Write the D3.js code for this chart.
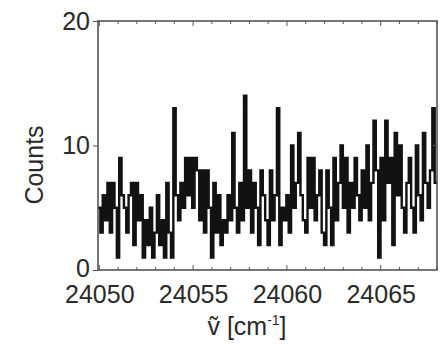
<!DOCTYPE html>
<html>
<head>
<meta charset="utf-8">
<script src="https://cdn.jsdelivr.net/npm/d3@7"></script>
<style>
  body { margin: 0; background: #fff; }
  svg { display: block; }
  text { font-family: "Liberation Sans", Arial, sans-serif; fill: #2a2a2a; }
</style>
</head>
<body>
<svg width="448" height="344"></svg>
<script>
// histogram: bin start, bin width, counts per bin
const binStart = 24049.93;
const binWidth = 0.1255;
const counts = [
  5, 3, 6, 4, 7, 3, 7, 5, 1, 9, 6, 5, 3, 6, 7, 2, 7, 4, 6, 1,
  4, 2, 5, 1, 3, 6, 2, 4, 1, 7, 3, 1, 13, 6, 4, 7, 5, 9, 6, 9,
  5, 9, 8, 4, 8, 3, 8, 5, 1, 7, 3, 6, 2, 4, 3, 6, 4, 11, 5, 3,
  7, 4, 14, 5, 8, 3, 7, 5, 2, 8, 6, 4, 2, 8, 4, 6, 13, 2, 5, 4,
  6, 3, 10, 5, 7, 11, 6, 4, 3, 9, 5, 9, 4, 6, 8, 3, 2, 8, 5, 2,
  9, 4, 7, 10, 5, 9, 3, 7, 5, 9, 6, 4, 8, 5, 10, 4, 7, 12, 8, 1,
  9, 4, 12, 7, 9, 2, 11, 6, 10, 5, 3, 7, 9, 5, 3, 10, 6, 4, 11, 7,
  5, 8, 13, 7
];
const xTicks = [24050, 24055, 24060, 24065];
const yTicks = [0, 10, 20];

const svg = d3.select("svg");
const margin = { top: 21, right: 11, bottom: 74, left: 98 };
const width = 448 - margin.left - margin.right;
const height = 344 - margin.top - margin.bottom;

const g = svg.append("g").attr("transform", `translate(${margin.left},${margin.top})`);

const x = d3.scaleLinear().domain([binStart, 24068]).range([0, width]);
const y = d3.scaleLinear().domain([0, 20]).range([height, 0]);

// step data: one point per bin start, plus the closing edge
const steps = counts.map((c, i) => ({ x: binStart + i * binWidth, c }));
steps.push({ x: binStart + counts.length * binWidth, c: counts[counts.length - 1] });

const line = d3.line()
  .x(d => x(d.x))
  .y(d => y(d.c))
  .curve(d3.curveStepAfter);

g.append("path")
  .datum(steps)
  .attr("fill", "none")
  .attr("stroke", "#121212")
  .attr("stroke-width", 2.4)
  .attr("d", line);

// minor ticks every wavenumber, inside the frame (bottom and top)
const minor = d3.range(24050, 24068.01, 1);
const tickStyle = sel => sel.attr("stroke", "#555").attr("stroke-width", 1);
g.selectAll(".tb").data(minor).join("line")
  .attr("x1", d => x(d)).attr("x2", d => x(d))
  .attr("y1", height).attr("y2", d => height - (d % 5 === 0 ? 5 : 3))
  .call(tickStyle);
g.selectAll(".tt").data(minor).join("line")
  .attr("x1", d => x(d)).attr("x2", d => x(d))
  .attr("y1", 0).attr("y2", d => (d % 5 === 0 ? 5 : 3))
  .call(tickStyle);

// left axis
const yAxis = g.append("g")
  .call(d3.axisLeft(y).tickValues(yTicks).tickSize(5).tickPadding(3));
yAxis.select(".domain").remove();
yAxis.selectAll("line").attr("stroke", "#555");
yAxis.selectAll("text")
  .style("font-size", "25px")
  .attr("fill", "#2a2a2a")
  .attr("y", d => (d === 0 ? -2 : 0));

// right inner tick
g.append("line")
  .attr("x1", width).attr("x2", width - 4)
  .attr("y1", y(10)).attr("y2", y(10))
  .call(tickStyle);

// bottom labels
const xAxis = g.append("g")
  .attr("transform", `translate(0,${height})`)
  .call(d3.axisBottom(x).tickValues(xTicks).tickSize(0).tickPadding(15).tickFormat(d3.format("d")));
xAxis.select(".domain").remove();
xAxis.selectAll("text")
  .style("font-size", "25px")
  .attr("fill", "#2a2a2a");

// frame
g.append("rect")
  .attr("width", width)
  .attr("height", height)
  .attr("fill", "none")
  .attr("stroke", "#4a4a4a")
  .attr("stroke-width", 1.5);

// axis titles
svg.append("text")
  .attr("transform", "translate(43,165) rotate(-90)")
  .attr("text-anchor", "middle")
  .style("font-size", "25px")
  .text("Counts");

const xt = svg.append("text")
  .attr("x", 247)
  .attr("y", 335)
  .attr("text-anchor", "middle")
  .style("font-size", "25px");
xt.append("tspan").text("\u1E7D [cm");
xt.append("tspan").attr("dy", -10).style("font-size", "14px").text("-1");
xt.append("tspan").attr("dy", 10).text("]");
</script>
</body>
</html>
